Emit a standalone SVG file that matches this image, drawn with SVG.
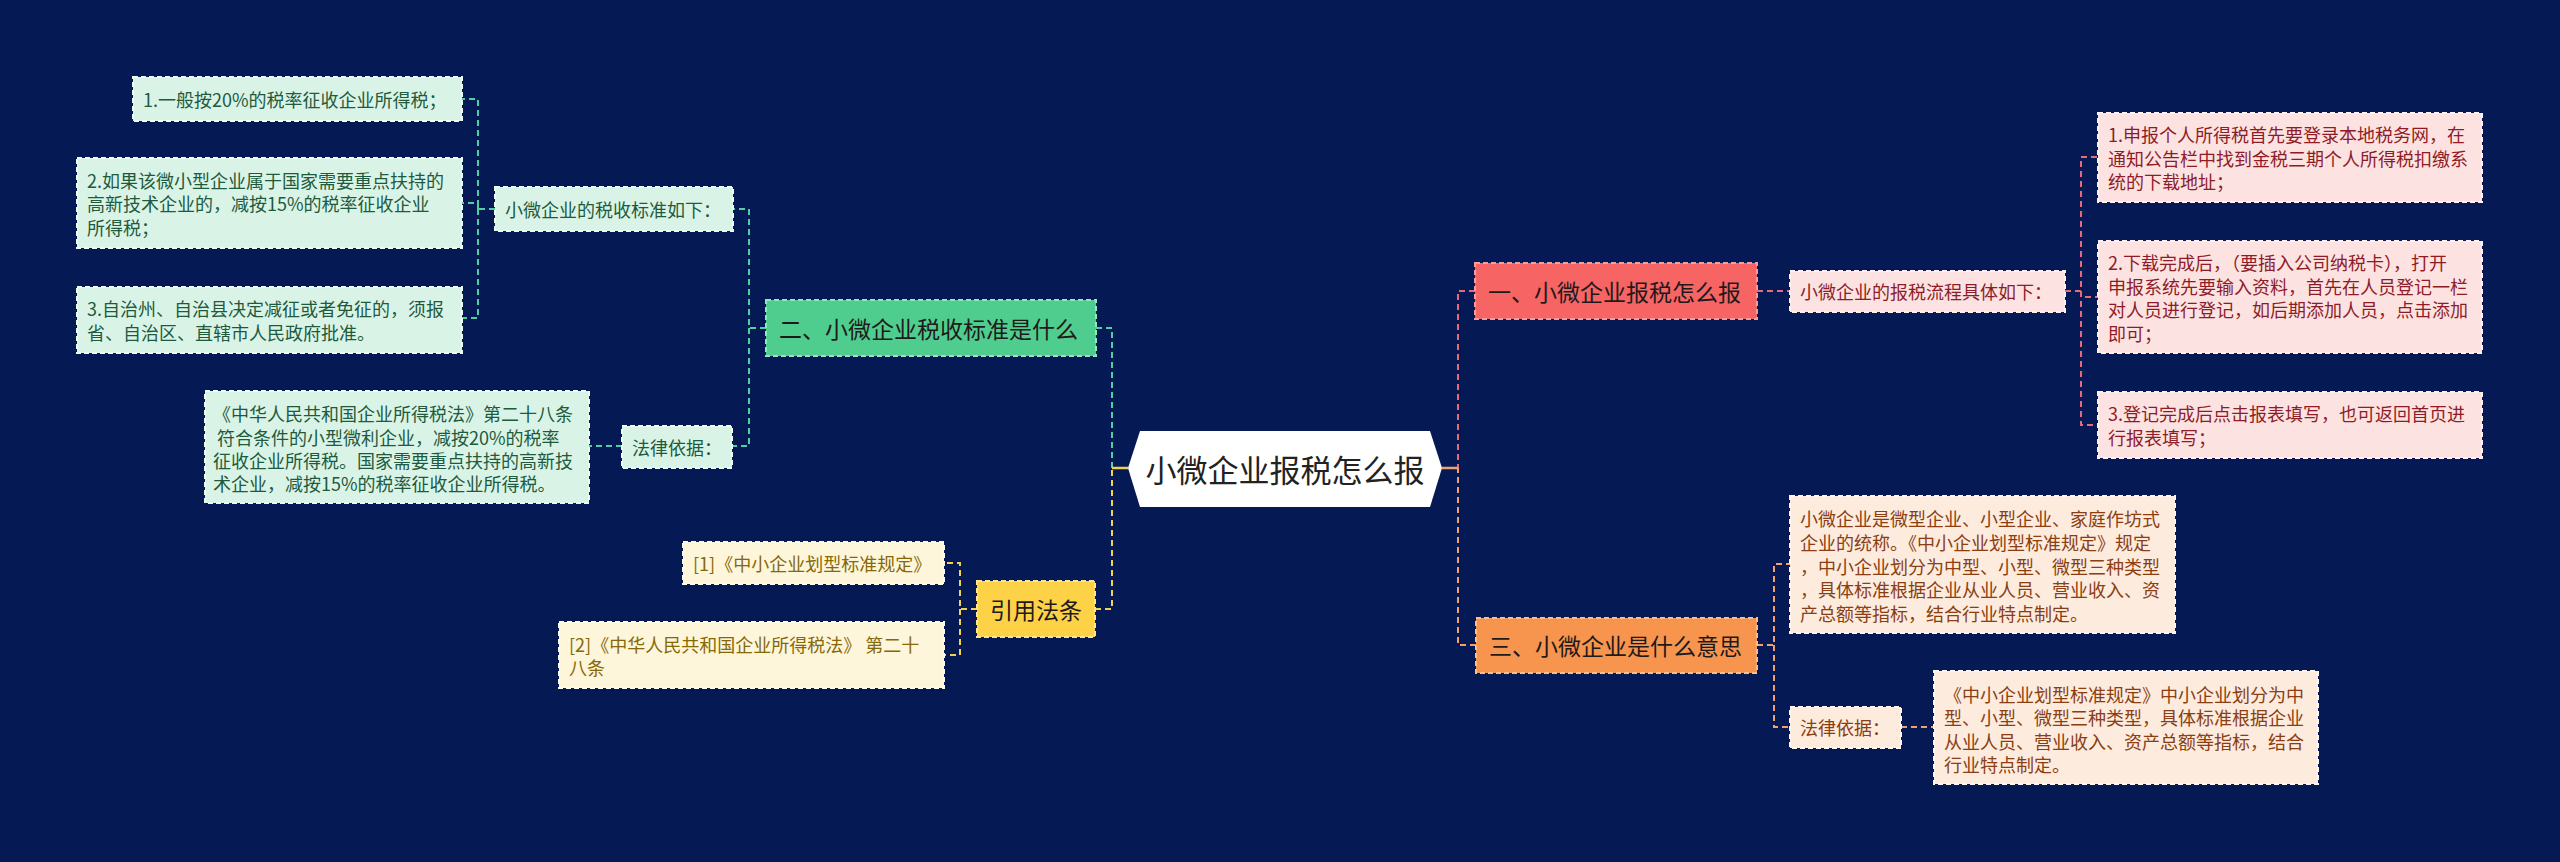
<svg xmlns="http://www.w3.org/2000/svg" width="2560" height="862" viewBox="0 0 2560 862">
<style>
text{font-family:"Noto Sans CJK SC","Noto Sans",sans-serif;dominant-baseline:central;white-space:pre}
.s{font-size:18px}
.m{font-size:23px}
.box{stroke-width:2;stroke-dasharray:5 3}
.lg{fill:#d9f4e7;stroke:#eefaf4}.lgt{fill:#1e5a3d}
.pk{fill:#fde2e2;stroke:#fff0f0}.pkt{fill:#8e1c27}
.pc{fill:#fdebdd;stroke:#fff5ee}.pct{fill:#8a3e12}
.ly{fill:#fef6da;stroke:#fffbea}.lyt{fill:#876808}
.ng{fill:#4ecd8e;stroke:#8ee8bb}
.nr{fill:#f66464;stroke:#fb9c9c}
.no{fill:#f7954f;stroke:#fbbf8e}
.ny{fill:#fdd246;stroke:#ffe68e}
.nt{fill:#1f1a1a}
.c{fill:none;stroke-width:2;stroke-dasharray:6 4}
.cg{stroke:#4fcfa2}.cr{stroke:#e9687a}.co{stroke:#f3a06a}.cy{stroke:#f2d14c}
</style>
<rect width="2560" height="862" fill="#051a55"/>
<g id="connectors">
<path class="c cg" d="M1096 328H1112V468"/>
<path class="c cy" d="M1095 609H1112V468"/>
<path d="M1112 468H1128" stroke="#f2d14c" stroke-width="2.5" fill="none"/>
<path class="c cr" d="M1475 291H1458V468"/>
<path class="c co" d="M1476 645H1458V468"/>
<path d="M1442 468H1458" stroke="#f3a06a" stroke-width="2.5" fill="none"/>
<path class="c cg" d="M766 328H749V209H733"/>
<path class="c cg" d="M749 328V446H732"/>
<path class="c cg" d="M495 209H478V99H462"/>
<path class="c cg" d="M478 209V203H462"/>
<path class="c cg" d="M478 209V318H462"/>
<path class="c cg" d="M622 446H589"/>
<path class="c cy" d="M977 609H960V563H944"/>
<path class="c cy" d="M960 609V655H944"/>
<path class="c cr" d="M1757 291H1790"/>
<path class="c cr" d="M2065 291H2081V157H2098"/>
<path class="c cr" d="M2081 291V297H2098"/>
<path class="c cr" d="M2081 291V425H2098"/>
<path class="c co" d="M1757 645H1774V564H1790"/>
<path class="c co" d="M1774 645V727H1790"/>
<path class="c co" d="M1901 727H1934"/>
</g>
<g id="root">
<polygon points="1128,468 1140,431 1430,431 1442,468 1430,507 1140,507" fill="#ffffff"/>
<text x="1285" y="468" font-size="31" text-anchor="middle" fill="#222">小微企业报税怎么报</text>
</g>
<g id="n-red">
<rect class="box nr" x="1475" y="263" width="282" height="56"/>
<text class="m nt" x="1488" y="291">一、小微企业报税怎么报</text>
</g>
<g id="n-red-label">
<rect class="box pk" x="1790" y="271" width="275" height="41"/>
<text class="s pkt" x="1800" y="291">小微企业的报税流程具体如下：</text>
</g>
<g id="n-red-1">
<rect class="box pk" x="2098" y="113" width="384" height="89"/>
<text class="s pkt" x="2108" y="134">1.申报个人所得税首先要登录本地税务网，在</text>
<text class="s pkt" x="2108" y="157.5">通知公告栏中找到金税三期个人所得税扣缴系</text>
<text class="s pkt" x="2108" y="181">统的下载地址；</text>
</g>
<g id="n-red-2">
<rect class="box pk" x="2098" y="241" width="384" height="112"/>
<text class="s pkt" x="2108" y="262">2.下载完成后，（要插入公司纳税卡），打开</text>
<text class="s pkt" x="2108" y="285.5">申报系统先要输入资料，首先在人员登记一栏</text>
<text class="s pkt" x="2108" y="309">对人员进行登记，如后期添加人员，点击添加</text>
<text class="s pkt" x="2108" y="332.5">即可；</text>
</g>
<g id="n-red-3">
<rect class="box pk" x="2098" y="392" width="384" height="66"/>
<text class="s pkt" x="2108" y="413">3.登记完成后点击报表填写，也可返回首页进</text>
<text class="s pkt" x="2108" y="437">行报表填写；</text>
</g>
<g id="n-orange">
<rect class="box no" x="1476" y="618" width="281" height="55"/>
<text class="m nt" x="1489" y="645">三、小微企业是什么意思</text>
</g>
<g id="n-orange-desc">
<rect class="box pc" x="1790" y="496" width="385" height="137"/>
<text class="s pct" x="1800" y="518">小微企业是微型企业、小型企业、家庭作坊式</text>
<text class="s pct" x="1800" y="542">企业的统称。《中小企业划型标准规定》规定</text>
<text class="s pct" x="1800" y="566">，中小企业划分为中型、小型、微型三种类型</text>
<text class="s pct" x="1800" y="589">，具体标准根据企业从业人员、营业收入、资</text>
<text class="s pct" x="1800" y="613">产总额等指标，结合行业特点制定。</text>
</g>
<g id="n-orange-law">
<rect class="box pc" x="1790" y="707" width="111" height="41"/>
<text class="s pct" x="1800" y="727">法律依据：</text>
</g>
<g id="n-orange-law-text">
<rect class="box pc" x="1934" y="671" width="384" height="113"/>
<text class="s pct" x="1944" y="694">《中小企业划型标准规定》中小企业划分为中</text>
<text class="s pct" x="1944" y="717">型、小型、微型三种类型，具体标准根据企业</text>
<text class="s pct" x="1944" y="741">从业人员、营业收入、资产总额等指标，结合</text>
<text class="s pct" x="1944" y="764">行业特点制定。</text>
</g>
<g id="n-green">
<rect class="box ng" x="766" y="300" width="330" height="56"/>
<text class="m nt" x="779" y="328">二、小微企业税收标准是什么</text>
</g>
<g id="n-green-label">
<rect class="box lg" x="495" y="187" width="238" height="44"/>
<text class="s lgt" x="505" y="209">小微企业的税收标准如下：</text>
</g>
<g id="n-green-1">
<rect class="box lg" x="133" y="77" width="329" height="44"/>
<text class="s lgt" x="143" y="99">1.一般按20%的税率征收企业所得税；</text>
</g>
<g id="n-green-2">
<rect class="box lg" x="77" y="158" width="385" height="90"/>
<text class="s lgt" x="87" y="179.5">2.如果该微小型企业属于国家需要重点扶持的</text>
<text class="s lgt" x="87" y="203">高新技术企业的，减按15%的税率征收企业</text>
<text class="s lgt" x="87" y="226.5">所得税；</text>
</g>
<g id="n-green-3">
<rect class="box lg" x="77" y="287" width="385" height="66"/>
<text class="s lgt" x="87" y="308">3.自治州、自治县决定减征或者免征的，须报</text>
<text class="s lgt" x="87" y="332">省、自治区、直辖市人民政府批准。</text>
</g>
<g id="n-green-law">
<rect class="box lg" x="622" y="426" width="110" height="42"/>
<text class="s lgt" x="632" y="447">法律依据：</text>
</g>
<g id="n-green-law-text">
<rect class="box lg" x="205" y="391" width="384" height="112"/>
<text class="s lgt" x="213" y="413">《中华人民共和国企业所得税法》第二十八条</text>
<text class="s lgt" x="213" y="437"> 符合条件的小型微利企业，减按20%的税率</text>
<text class="s lgt" x="213" y="460">征收企业所得税。国家需要重点扶持的高新技</text>
<text class="s lgt" x="213" y="483">术企业，减按15%的税率征收企业所得税。</text>
</g>
<g id="n-yellow">
<rect class="box ny" x="977" y="581" width="118" height="56"/>
<text class="m nt" x="1036" y="609" text-anchor="middle">引用法条</text>
</g>
<g id="n-yellow-1">
<rect class="box ly" x="683" y="542" width="261" height="42"/>
<text class="s lyt" x="693" y="563">[1]《中小企业划型标准规定》</text>
</g>
<g id="n-yellow-2">
<rect class="box ly" x="559" y="622" width="385" height="66"/>
<text class="s lyt" x="569" y="643.5">[2]《中华人民共和国企业所得税法》 第二十</text>
<text class="s lyt" x="569" y="667">八条</text>
</g>
</svg>
